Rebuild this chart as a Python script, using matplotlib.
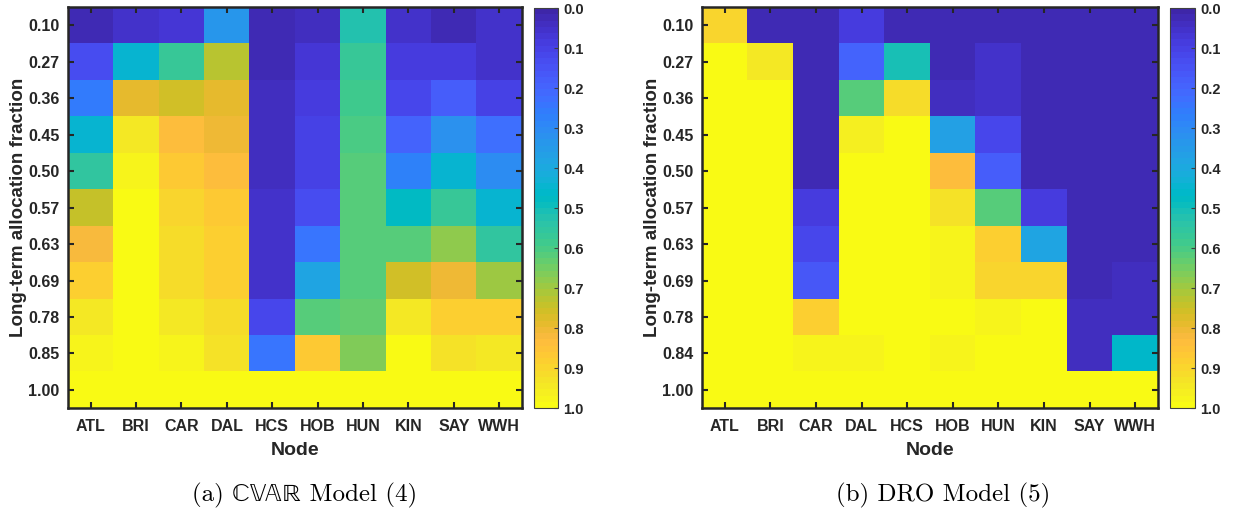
"""Allocation heatmaps: CVaR vs DRO model, node x long-term fraction."""

import numpy as np
import matplotlib
matplotlib.use("Agg")
import matplotlib.pyplot as plt
from matplotlib.colors import ListedColormap

# MATLAB parula, 64 entries
PARULA = [
    [0.2422, 0.1504, 0.6603], [0.2504, 0.1650, 0.7076], [0.2578, 0.1818, 0.7511],
    [0.2647, 0.1978, 0.7952], [0.2706, 0.2147, 0.8364], [0.2751, 0.2342, 0.8710],
    [0.2783, 0.2559, 0.8991], [0.2803, 0.2782, 0.9221], [0.2813, 0.3006, 0.9414],
    [0.2810, 0.3228, 0.9579], [0.2795, 0.3447, 0.9717], [0.2760, 0.3667, 0.9829],
    [0.2699, 0.3892, 0.9906], [0.2602, 0.4123, 0.9952], [0.2440, 0.4358, 0.9988],
    [0.2206, 0.4603, 0.9973], [0.1963, 0.4847, 0.9892], [0.1834, 0.5074, 0.9798],
    [0.1786, 0.5289, 0.9682], [0.1764, 0.5499, 0.9520], [0.1687, 0.5703, 0.9359],
    [0.1540, 0.5902, 0.9218], [0.1460, 0.6091, 0.9079], [0.1380, 0.6276, 0.8973],
    [0.1248, 0.6459, 0.8883], [0.1113, 0.6635, 0.8763], [0.0952, 0.6798, 0.8598],
    [0.0689, 0.6948, 0.8394], [0.0297, 0.7082, 0.8163], [0.0036, 0.7203, 0.7917],
    [0.0067, 0.7312, 0.7660], [0.0433, 0.7411, 0.7394], [0.0964, 0.7500, 0.7120],
    [0.1408, 0.7584, 0.6842], [0.1717, 0.7670, 0.6554], [0.1938, 0.7758, 0.6251],
    [0.2161, 0.7843, 0.5923], [0.2470, 0.7918, 0.5567], [0.2906, 0.7973, 0.5188],
    [0.3406, 0.8008, 0.4789], [0.3909, 0.8029, 0.4354], [0.4456, 0.8024, 0.3909],
    [0.5044, 0.7993, 0.3480], [0.5616, 0.7942, 0.3045], [0.6174, 0.7876, 0.2612],
    [0.6720, 0.7793, 0.2227], [0.7242, 0.7698, 0.1910], [0.7738, 0.7598, 0.1646],
    [0.8203, 0.7498, 0.1535], [0.8634, 0.7406, 0.1596], [0.9035, 0.7330, 0.1774],
    [0.9393, 0.7288, 0.2100], [0.9728, 0.7298, 0.2394], [0.9956, 0.7434, 0.2371],
    [0.9970, 0.7659, 0.2199], [0.9952, 0.7893, 0.2028], [0.9892, 0.8136, 0.1885],
    [0.9786, 0.8386, 0.1766], [0.9676, 0.8639, 0.1643], [0.9610, 0.8890, 0.1537],
    [0.9597, 0.9135, 0.1423], [0.9628, 0.9373, 0.1265], [0.9691, 0.9606, 0.1064],
    [0.9769, 0.9839, 0.0805],
]

nodes = ["ATL", "BRI", "CAR", "DAL", "HCS", "HOB", "HUN", "KIN", "SAY", "WWH"]
fractions_cvar = ["0.10", "0.27", "0.36", "0.45", "0.50", "0.57", "0.63", "0.69", "0.78", "0.85", "1.00"]
fractions_dro = ["0.10", "0.27", "0.36", "0.45", "0.50", "0.57", "0.63", "0.69", "0.78", "0.84", "1.00"]

# rows = fractions (top to bottom), cols = nodes
cvar_values = [
    [0.02, 0.06, 0.07, 0.33, 0.02, 0.04, 0.52, 0.05, 0.03, 0.05],
    [0.13, 0.45, 0.57, 0.73, 0.02, 0.07, 0.57, 0.09, 0.09, 0.06],
    [0.25, 0.79, 0.76, 0.79, 0.04, 0.08, 0.59, 0.12, 0.18, 0.10],
    [0.44, 0.95, 0.84, 0.81, 0.04, 0.10, 0.60, 0.20, 0.32, 0.22],
    [0.56, 0.97, 0.87, 0.84, 0.04, 0.10, 0.62, 0.28, 0.44, 0.30],
    [0.74, 0.99, 0.90, 0.86, 0.05, 0.14, 0.62, 0.47, 0.57, 0.45],
    [0.82, 0.99, 0.91, 0.88, 0.05, 0.24, 0.62, 0.62, 0.68, 0.56],
    [0.89, 0.99, 0.92, 0.88, 0.05, 0.38, 0.62, 0.76, 0.80, 0.70],
    [0.94, 0.99, 0.95, 0.91, 0.12, 0.62, 0.63, 0.95, 0.88, 0.88],
    [0.97, 0.99, 0.97, 0.93, 0.24, 0.86, 0.67, 1.00, 0.93, 0.95],
    [1.00, 1.00, 1.00, 1.00, 1.00, 1.00, 1.00, 1.00, 1.00, 1.00],
]

dro_values = [
    [0.90, 0.02, 0.02, 0.08, 0.02, 0.02, 0.02, 0.02, 0.02, 0.02],
    [1.00, 0.94, 0.02, 0.20, 0.50, 0.03, 0.05, 0.02, 0.02, 0.02],
    [1.00, 1.00, 0.02, 0.62, 0.92, 0.04, 0.06, 0.02, 0.02, 0.02],
    [1.00, 1.00, 0.02, 0.96, 0.99, 0.37, 0.12, 0.02, 0.02, 0.02],
    [1.00, 1.00, 0.02, 0.99, 0.99, 0.83, 0.18, 0.02, 0.02, 0.02],
    [1.00, 1.00, 0.09, 0.99, 1.00, 0.93, 0.62, 0.09, 0.02, 0.02],
    [1.00, 1.00, 0.11, 0.99, 1.00, 0.97, 0.88, 0.38, 0.02, 0.02],
    [1.00, 1.00, 0.16, 1.00, 1.00, 0.98, 0.90, 0.90, 0.02, 0.04],
    [1.00, 1.00, 0.88, 1.00, 1.00, 1.00, 0.97, 0.99, 0.04, 0.04],
    [1.00, 1.00, 0.98, 0.98, 1.00, 0.98, 1.00, 1.00, 0.04, 0.46],
    [1.00, 1.00, 1.00, 1.00, 1.00, 1.00, 1.00, 1.00, 1.00, 1.00],
]

captions = ["(a) \u2102\U0001D54D\U0001D538\u211D Model (4)", "(b) DRO Model (5)"]

plt.rcParams["font.family"] = ["Liberation Sans", "DejaVu Sans"]
TXT = "#262626"


def draw_panel(fig, rect, cbar_rect, values, ylabels):
    cmap = ListedColormap(PARULA)
    ax = fig.add_axes(rect)
    im = ax.imshow(np.array(values), cmap=cmap, vmin=0, vmax=1, aspect="auto",
                   interpolation="nearest")
    ax.set_xticks(range(len(nodes)))
    ax.set_xticklabels(nodes, fontweight="bold", fontsize=11.5, color=TXT)
    ax.set_yticks(range(len(ylabels)))
    ax.set_yticklabels(ylabels, fontweight="bold", fontsize=11.5, color=TXT)
    ax.tick_params(direction="in", length=4, width=1.5, top=True, right=True,
                   color=TXT)
    ax.tick_params(axis="x", pad=8)
    ax.tick_params(axis="y", pad=6)
    for s in ax.spines.values():
        s.set_linewidth(1.8)
        s.set_color(TXT)
    ax.set_xlabel("Node", fontweight="bold", fontsize=14, color=TXT, labelpad=5.5)
    ax.set_ylabel("Long-term allocation fraction", fontweight="bold", fontsize=13.5,
                  color=TXT, labelpad=1)

    cax = fig.add_axes(cbar_rect)
    cb = fig.colorbar(im, cax=cax, ticks=np.linspace(0, 1, 11))
    cax.invert_yaxis()
    cb.ax.set_yticklabels([f"{v:.1f}" for v in np.linspace(0, 1, 11)],
                          fontweight="bold", fontsize=10.5, color=TXT)
    cax.tick_params(direction="in", length=3, width=0.8, color="#404040", pad=4)
    cb.outline.set_linewidth(0.8)
    cb.outline.set_edgecolor("#404040")
    return ax


fig = plt.figure(figsize=(12.34, 5.14), dpi=100)
draw_panel(fig, [0.0551, 0.206, 0.3679, 0.780], [0.4327, 0.206, 0.0194, 0.778],
           cvar_values, fractions_cvar)
draw_panel(fig, [0.5689, 0.206, 0.3695, 0.780], [0.9481, 0.206, 0.0203, 0.778],
           dro_values, fractions_dro)

cap_font = ["cmr10", "STIXGeneral", "DejaVu Sans"]
fig.text(0.247, 0.037, captions[0], ha="center", va="center", fontsize=18,
         family=cap_font, color="black")
fig.text(0.764, 0.037, captions[1], ha="center", va="center", fontsize=18,
         family=cap_font, color="black")

fig.savefig("out.png", dpi=100)
